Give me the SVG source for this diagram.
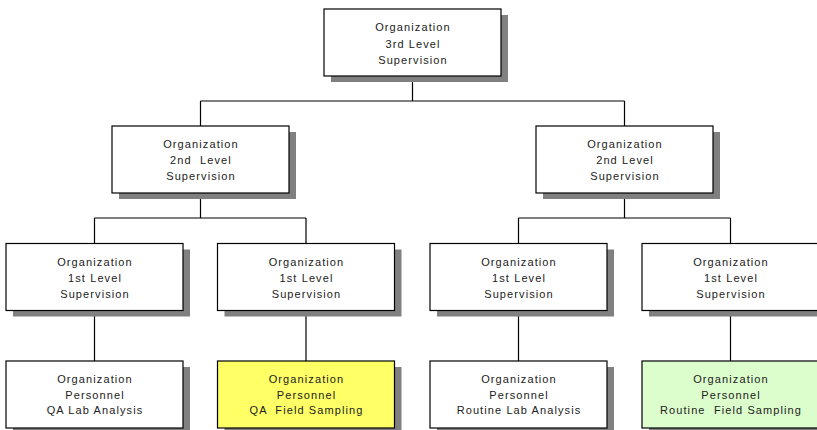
<svg xmlns="http://www.w3.org/2000/svg" width="817" height="430" viewBox="0 0 817 430">
<style>
.sh{fill:#808080}
.bx{fill:#fff;stroke:#000;stroke-width:1.2}
.y{fill:#ffff66}
.g{fill:#dcfdcc}
.t{font-family:"Liberation Sans",Arial,sans-serif;font-size:11px;letter-spacing:1.1px;fill:#222;text-anchor:middle;white-space:pre}
.c{fill:none;stroke:#000;stroke-width:1.2}
</style>
<rect width="817" height="430" fill="#fff"/>
<g id="connectors">
<path class="c" d="M412.5 76V101M200.5 101H624.5M200.5 101V126M624.5 101V126"/>
<path class="c" d="M200.5 193V218M94.5 218H306M94.5 218V243.5M306 218V243.5"/>
<path class="c" d="M624.5 193V218M518.5 218H730.5M518.5 218V243.5M730.5 218V243.5"/>
<path class="c" d="M94.5 310V361M306 310V361M518.5 310V361M730.5 310V361"/>
</g>
<g id="n3">
<rect class="sh" x="331" y="15" width="177" height="67"/>
<rect class="bx" x="324" y="9" width="177" height="67"/>
<text class="t" x="413" y="31">Organization</text>
<text class="t" x="413" y="47.5">3rd Level</text>
<text class="t" x="413" y="64">Supervision</text>
</g>
<g id="n2a">
<rect class="sh" x="119" y="132" width="177" height="67"/>
<rect class="bx" x="112" y="126" width="177" height="67"/>
<text class="t" x="201" y="148">Organization</text>
<text class="t" x="201" y="164">2nd  Level</text>
<text class="t" x="201" y="180">Supervision</text>
</g>
<g id="n2b">
<rect class="sh" x="543" y="132" width="177" height="67"/>
<rect class="bx" x="536" y="126" width="177" height="67"/>
<text class="t" x="625" y="148">Organization</text>
<text class="t" x="625" y="164">2nd Level</text>
<text class="t" x="625" y="180">Supervision</text>
</g>
<g id="n1a">
<rect class="sh" x="13" y="249.5" width="177" height="67"/>
<rect class="bx" x="6" y="243.5" width="177" height="67"/>
<text class="t" x="95" y="266">Organization</text>
<text class="t" x="95" y="282">1st Level</text>
<text class="t" x="95" y="297.5">Supervision</text>
</g>
<g id="n1b">
<rect class="sh" x="224.5" y="249.5" width="177" height="67"/>
<rect class="bx" x="217.5" y="243.5" width="177" height="67"/>
<text class="t" x="306.5" y="266">Organization</text>
<text class="t" x="306.5" y="282">1st Level</text>
<text class="t" x="306.5" y="297.5">Supervision</text>
</g>
<g id="n1c">
<rect class="sh" x="437" y="249.5" width="177" height="67"/>
<rect class="bx" x="430" y="243.5" width="177" height="67"/>
<text class="t" x="519" y="266">Organization</text>
<text class="t" x="519" y="282">1st Level</text>
<text class="t" x="519" y="297.5">Supervision</text>
</g>
<g id="n1d">
<rect class="sh" x="649" y="249.5" width="177" height="67"/>
<rect class="bx" x="642" y="243.5" width="177" height="67"/>
<text class="t" x="731" y="266">Organization</text>
<text class="t" x="731" y="282">1st Level</text>
<text class="t" x="731" y="297.5">Supervision</text>
</g>
<g id="n0a">
<rect class="sh" x="13" y="367" width="177" height="67"/>
<rect class="bx" x="6" y="361" width="177" height="67"/>
<text class="t" x="95" y="383">Organization</text>
<text class="t" x="95" y="398.5">Personnel</text>
<text class="t" x="95" y="414">QA Lab Analysis</text>
</g>
<g id="n0b">
<rect class="sh" x="224.5" y="367" width="177" height="67"/>
<rect class="bx y" x="217.5" y="361" width="177" height="67"/>
<text class="t" x="306.5" y="383">Organization</text>
<text class="t" x="306.5" y="398.5">Personnel</text>
<text class="t" x="306.5" y="414">QA  Field Sampling</text>
</g>
<g id="n0c">
<rect class="sh" x="437" y="367" width="177" height="67"/>
<rect class="bx" x="430" y="361" width="177" height="67"/>
<text class="t" x="519" y="383">Organization</text>
<text class="t" x="519" y="398.5">Personnel</text>
<text class="t" x="519" y="414">Routine Lab Analysis</text>
</g>
<g id="n0d">
<rect class="sh" x="649" y="367" width="177" height="67"/>
<rect class="bx g" x="642" y="361" width="177" height="67"/>
<text class="t" x="731" y="383">Organization</text>
<text class="t" x="731" y="398.5">Personnel</text>
<text class="t" x="731" y="414">Routine  Field Sampling</text>
</g>
</svg>
